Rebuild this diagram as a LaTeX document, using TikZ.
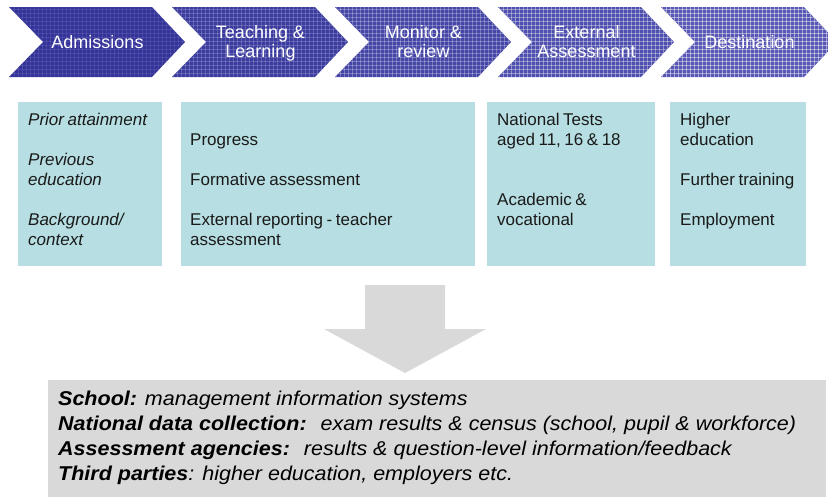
\documentclass[tikz,border=0pt]{standalone}
\usepackage{fontspec}
\setmainfont{Liberation Sans}
\newfontfamily\boxfont[WordSpace=0.75]{Liberation Sans}
\newfontfamily\bottomfont[FakeStretch=1.075]{Liberation Sans}
\definecolor{chevdark}{HTML}{333399}
\definecolor{chevlight}{HTML}{5858B4}
\definecolor{boxteal}{HTML}{B7DEE2}
\definecolor{arrowgrey}{HTML}{D9D9D9}
\definecolor{txtdark}{HTML}{1A1A1A}
\tikzset{
  chevlabel/.style={anchor=base, inner sep=0pt, text=white, font=\fontsize{18}{20}\selectfont},
  boxline/.style={anchor=base west, inner sep=0pt, text=txtdark, font=\boxfont\fontsize{17}{20}\selectfont},
  infobox/.style={fill=boxteal, draw=none},
  bottomline/.style={anchor=base west, inner sep=0pt, text=black, font=\bottomfont\fontsize{20}{25}\selectfont},
}
\begin{document}
\begin{tikzpicture}[x=1pt,y=-1pt]
\useasboundingbox (0,0) rectangle (828,499);
% chevrons
\foreach \i/\L in {0/9,1/172,2/335,3/498,4/661}{
  \pgfmathtruncatemacro\pct{25*\i}
  \pgfmathsetmacro\op{0.10+0.09*\i}
  \fill[chevlight!\pct!chevdark] (\L,7) -- (\L+143,7) -- (\L+176,42) -- (\L+143,77) -- (\L,77) -- (\L+34,42) -- cycle;
  \begin{scope}
    \clip (\L,7) -- (\L+143,7) -- (\L+176,42) -- (\L+143,77) -- (\L,77) -- (\L+34,42) -- cycle;
    \foreach \gx in {1,5,...,177}{\draw[white, opacity=\op, line width=0.8pt] (\L+\gx,7) -- (\L+\gx,77);}
    \foreach \gy in {9,13,...,77}{\draw[white, opacity=\op, line width=0.8pt] (\L,\gy) -- (\L+176,\gy);}
  \end{scope}
}
\node[chevlabel] (c1) at (97.5,48) {Admissions};
\node[chevlabel] (c2a) at (260.5,38.5) {Teaching \&};
\node[chevlabel] (c2b) at (260.5,57) {Learning};
\node[chevlabel] (c3a) at (423.5,38.5) {Monitor \&};
\node[chevlabel] (c3b) at (423.5,57) {review};
\node[chevlabel] (c4a) at (586.5,38.5) {External};
\node[chevlabel] (c4b) at (586.5,57) {Assessment};
\node[chevlabel] (c5) at (749.5,48) {Destination};
% info boxes
\fill[infobox] (18,102) rectangle (162,266);
\fill[infobox] (181,102) rectangle (475,266);
\fill[infobox] (487,102) rectangle (655,266);
\fill[infobox] (670,102) rectangle (806,266);
\node[boxline] (b1a) at (28,125) {\itshape Prior attainment};
\node[boxline] (b1b) at (28,165) {\itshape Previous};
\node[boxline] (b1c) at (28,185) {\itshape education};
\node[boxline] (b1d) at (28,225) {\itshape Background/};
\node[boxline] (b1e) at (28,245) {\itshape context};
\node[boxline] (b2a) at (190,145) {Progress};
\node[boxline] (b2b) at (190,185) {Formative assessment};
\node[boxline] (b2c) at (190,225) {External reporting - teacher};
\node[boxline] (b2d) at (190,245) {assessment};
\node[boxline] (b3a) at (497,125) {National Tests};
\node[boxline] (b3b) at (497,145) {aged 11, 16 \& 18};
\node[boxline] (b3c) at (497,205) {Academic \&};
\node[boxline] (b3d) at (497,225) {vocational};
\node[boxline] (b4a) at (680,125) {Higher};
\node[boxline] (b4b) at (680,145) {education};
\node[boxline] (b4c) at (680,185) {Further training};
\node[boxline] (b4d) at (680,225) {Employment};
% big arrow
\fill[arrowgrey] (365,285) -- (445,285) -- (445,329) -- (486,329) -- (405,373) -- (324,329) -- (365,329) -- cycle;
% bottom box
\fill[arrowgrey] (48,380) rectangle (826,497);
\node[bottomline] (t1) at (58,405) {\textbf{\textit{School:}} \textit{management information systems}};
\node[bottomline] (t2) at (58,430) {\textbf{\textit{National data collection:}}~ \textit{exam results \& census (school, pupil \& workforce)}};
\node[bottomline] (t3) at (58,455) {\textbf{\textit{Assessment agencies:}}~ \textit{results \& question-level information/feedback}};
\node[bottomline] (t4) at (58,480) {\textbf{\textit{Third parties}}\textit{: higher education, employers etc.}};
\end{tikzpicture}
\end{document}
